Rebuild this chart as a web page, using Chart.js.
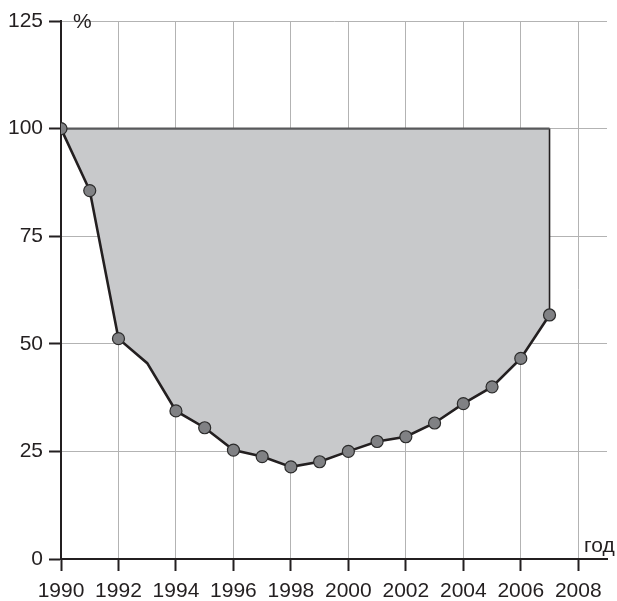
<!DOCTYPE html>
<html>
<head>
<meta charset="utf-8">
<script src="https://cdn.jsdelivr.net/npm/chart.js@4/dist/chart.umd.min.js"></script>
<style>
html,body{margin:0;padding:0;background:#fff;}
#wrap{width:617px;height:601px;}
</style>
</head>
<body>
<div id="wrap"><canvas id="c" width="617" height="601"></canvas></div>
<script>
const years  = [1990, 1991, 1992, 1993, 1994, 1995, 1996, 1997, 1998, 1999, 2000, 2001, 2002, 2003, 2004, 2005, 2006, 2007];
const values = [100, 85.6, 51.2, 45.5, 34.4, 30.5, 25.3, 23.8, 21.4, 22.6, 25.0, 27.3, 28.4, 31.6, 36.1, 40.0, 46.6, 56.7];
const markerShown = [1, 1, 1, 0, 1, 1, 1, 1, 1, 1, 1, 1, 1, 1, 1, 1, 1, 1];
const xTicks = [1990, 1992, 1994, 1996, 1998, 2000, 2002, 2004, 2006, 2008];
const yTicks = [0, 25, 50, 75, 100, 125];
const baseLevel = 100;
const yUnit = '%';
const xUnit = 'год';

const ink = '#231f20';
const FONT = '"Liberation Sans", Arial, sans-serif';
const FSIZE = 21;

const mainData = years.map((y, i) => ({x: y, y: values[i]}));
const lastYear = years[years.length - 1];
const edgeData = [
  {x: lastYear, y: values[values.length - 1]},
  {x: lastYear, y: baseLevel},
  {x: years[0], y: baseLevel}
];

const labelsPlugin = {
  id: 'unitLabels',
  afterDraw(chart) {
    const ctx = chart.ctx;
    const xs = chart.scales.x, ys = chart.scales.y;
    ctx.save();
    ctx.fillStyle = ink;
    ctx.font = FSIZE + 'px ' + FONT;
    ctx.textAlign = 'left';
    ctx.textBaseline = 'middle';
    ctx.fillText(yUnit, xs.left + 12, ys.top + 1);
    ctx.textBaseline = 'alphabetic';
    ctx.fillText(xUnit, xs.right - 23, ys.bottom - 7);
    ctx.restore();
  }
};

new Chart(document.getElementById('c'), {
  type: 'line',
  data: {
    datasets: [
      {
        data: mainData,
        order: 1,
        borderColor: ink,
        borderWidth: 2.6,
        tension: 0,
        fill: {value: baseLevel},
        backgroundColor: '#c8c9cb',
        pointRadius: markerShown.map(m => m ? 6 : 0),
        pointBackgroundColor: '#808184',
        pointBorderColor: '#2b2b2b',
        pointBorderWidth: 1.2
      },
      {
        data: edgeData,
        order: 2,
        fill: false,
        pointRadius: 0,
        borderWidth: 2,
        borderColor: ink,
        segment: {
          borderColor: c => c.p0DataIndex === 0 ? ink : '#58595b',
          borderWidth: c => c.p0DataIndex === 0 ? 1.6 : 2.2
        }
      }
    ]
  },
  options: {
    responsive: false,
    animation: false,
    events: [],
    layout: {padding: {left: 0, right: 10, top: 21, bottom: 0}},
    plugins: {
      legend: {display: false},
      tooltip: {enabled: false},
      filler: {drawTime: 'beforeDatasetsDraw'}
    },
    scales: {
      x: {
        type: 'linear',
        min: 1990,
        max: 2009,
        afterBuildTicks: s => { s.ticks = xTicks.map(v => ({value: v})); },
        afterFit: s => { s.height = 42; },
        ticks: {
          autoSkip: false,
          maxRotation: 0,
          minRotation: 0,
          padding: 8,
          color: ink,
          font: {family: FONT, size: FSIZE},
          callback: v => String(v)
        },
        grid: {
          color: '#b3b3b3',
          lineWidth: 1,
          tickLength: 12,
          tickColor: ink,
          tickWidth: 2
        },
        border: {color: ink, width: 2}
      },
      y: {
        min: 0,
        max: 125,
        afterBuildTicks: s => { s.ticks = yTicks.map(v => ({value: v})); },
        afterFit: s => { s.width = 61; },
        ticks: {
          padding: 6,
          color: ink,
          font: {family: FONT, size: FSIZE},
          callback: v => String(v)
        },
        grid: {
          color: '#b3b3b3',
          lineWidth: 1,
          tickLength: 12,
          tickColor: ink,
          tickWidth: 2
        },
        border: {color: ink, width: 2}
      }
    }
  },
  plugins: [labelsPlugin]
});
</script>
</body>
</html>
